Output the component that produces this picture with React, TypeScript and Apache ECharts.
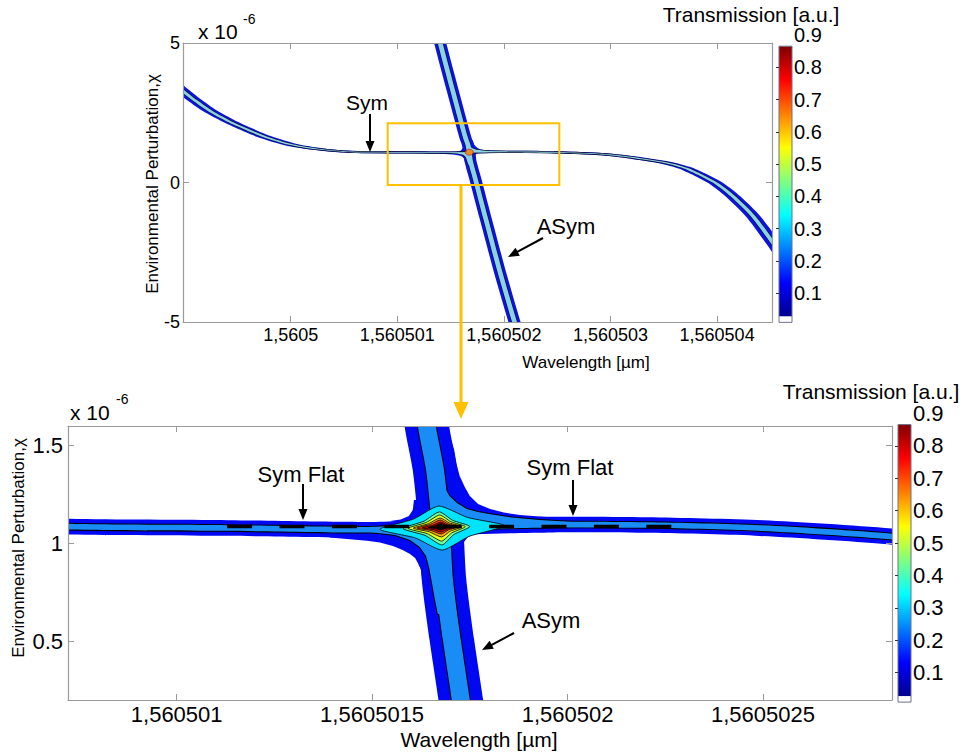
import React, { useEffect, useRef } from "react";
import * as echarts from "echarts";

// ---------------- data ----------------
// wavelengths are offsets from 1.5605 µm, in units of 1e-6 µm; chi in units of 1e-6
const WL_BASE_UM = 1.5605;

// Symmetric resonance branch ("Sym") – centre line of the transmission band
const SYM_WL = [-1.2, -1.05, -0.9, -0.75, -0.6, -0.48, -0.25, 0, 0.25, 0.5, 0.72, 1.13, 1.49, 1.68, 1.96, 2.2, 2.49, 2.83, 3.0, 3.2, 3.53, 3.7, 3.84, 4.0, 4.15, 4.34, 4.55, 4.7];
const SYM_CHI = [3.87, 3.4, 2.95, 2.55, 2.24, 2.02, 1.65, 1.36, 1.2, 1.11, 1.086, 1.079, 1.07, 1.083, 1.096, 1.094, 1.079, 1.035, 0.99, 0.9, 0.7, 0.52, 0.28, -0.05, -0.5, -1.22, -2.3, -3.1];

// Asymmetric resonance branch ("ASym")
const ASYM_WL = [1.36, 1.388, 1.52, 1.64, 1.661, 1.676, 1.684, 1.704, 1.727, 1.83, 1.97, 2.115, 2.145];
const ASYM_CHI = [5.6, 5.2, 3.3, 1.6, 1.375, 1.084, 0.813, 0.507, 0.2, -1.3, -3.3, -5.2, -5.6];

// crossing point of the two branches
const CROSS_WL = 1.676;
const CROSS_CHI = 1.084;

// half widths of the 0.1 and 0.2 transmission contours around each branch
const SYM_HALF_WL = [0.068, 0.022];
const SYM_HALF_CHI = [0.04, 0.0145];
const ASYM_HALF_WL = [0.057, 0.023];
const ASYM_HALF_CHI = [0.04, 0.0145];

// 0.1 contour near the crossing (corner regions)
const C01_UR_WL = [1.702, 1.71, 1.716, 1.724, 1.737, 1.75, 1.771, 1.802, 1.837, 1.878, 1.963, 2.083, 2.083, 1.686, 1.674];
const C01_UR_CHI = [1.528, 1.477, 1.406, 1.345, 1.288, 1.242, 1.201, 1.176, 1.158, 1.145, 1.132, 1.125, 1.089, 1.084, 1.528];
const C01_LL_WL = [1.392, 1.392, 1.487, 1.52, 1.553, 1.578, 1.597, 1.61, 1.617, 1.625, 1.628, 1.635, 1.64, 1.674, 1.674];
const C01_LL_CHI = [1.069, 1.03, 1.014, 1.005, 0.987, 0.966, 0.946, 0.925, 0.9, 0.864, 0.823, 0.762, 0.685, 0.685, 1.084];
const C01_UL_WL = [1.607, 1.604, 1.594, 1.573, 1.546, 1.622, 1.622];
const C01_UL_CHI = [1.222, 1.171, 1.14, 1.122, 1.115, 1.084, 1.222];
const C01_LR_WL = [1.73, 1.735, 1.745, 1.763, 1.796, 1.796, 1.704, 1.704];
const C01_LR_CHI = [0.956, 1.007, 1.033, 1.048, 1.056, 1.089, 1.084, 0.956];

// 0.2 contour near the crossing
const C02_UR_WL = [1.684, 1.684, 1.698, 1.717, 1.742, 1.771, 1.799, 1.858, 1.929, 2.032, 2.032, 1.686, 1.665];
const C02_UR_CHI = [1.355, 1.288, 1.242, 1.207, 1.176, 1.161, 1.15, 1.132, 1.12, 1.107, 1.09, 1.084, 1.355];
const C02_LL_WL = [1.495, 1.559, 1.597, 1.622, 1.638, 1.646, 1.653, 1.66, 1.668, 1.7, 1.7, 1.495];
const C02_LL_CHI = [1.058, 1.043, 1.017, 0.982, 0.936, 0.874, 0.8, 0.72, 0.64, 0.64, 1.084, 1.07];

// high-transmission spot at the crossing: contour levels and their extents
const HOT_LEVELS = [0.3, 0.4, 0.5, 0.6, 0.7, 0.8, 0.9];
const HOT_LEFT_WL = [1.52, 1.579, 1.592, 1.605, 1.615, 1.628, 1.643];
const HOT_RIGHT_WL = [1.84, 1.75, 1.738, 1.73, 1.72, 1.715, 1.704];
const HOT_TOP_CHI = [1.191, 1.161, 1.145, 1.13, 1.12, 1.109, 1.102];
const HOT_BOTTOM_CHI = [0.966, 0.992, 1.012, 1.033, 1.048, 1.058, 1.069];

// dashed "flat" segment of the Sym branch (zoomed panel)
const FLAT_WL = [1.129, 2.277];
const FLAT_CHI = [1.087, 1.087];

// zoom window marked on the upper panel
const ZOOM_BOX_WL = [0.91, 2.52];
const ZOOM_BOX_CHI = [-0.09, 2.12];

// ticks
const TOP_X_TICKS = [0, 1, 2, 3, 4];
const TOP_Y_TICKS = [-5, 0, 5];
const BOT_X_TICKS = [1, 1.5, 2, 2.5];
const BOT_Y_TICKS = [0.5, 1, 1.5];
const CBAR_LABELS = [0.1, 0.2, 0.3, 0.4, 0.5, 0.6, 0.7, 0.8, 0.9];
const CBAR_TICKS = [0.1, 0.2, 0.3, 0.4, 0.5, 0.6, 0.7, 0.8];
const CBAR_RANGE = [0.009, 0.866];
const CBAR_WHITE_TOP = 0.027;

// ---------------- styling ----------------
const FONT = "'Liberation Sans', Arial, Helvetica, sans-serif";
const AXIS_GREY = "#9b9b9b";
const ORANGE = "#ffc000";
const HOT_COLORS = ["#00e4ff", "#6dffa0", "#e6ff1a", "#ffb000", "#ff4000", "#c00000", "#1a0000"];
const JET_STOPS = [
  { offset: 0, color: "#00008f" },
  { offset: 0.125, color: "#0000ff" },
  { offset: 0.375, color: "#00ffff" },
  { offset: 0.625, color: "#ffff00" },
  { offset: 0.875, color: "#ff0000" },
  { offset: 1, color: "#800000" },
];

// ---------------- helpers ----------------
function interp(xs: number[], ys: number[], x: number): number {
  const n = xs.length;
  let i = 1;
  while (i < n - 1 && x > xs[i]) i++;
  const t = (x - xs[i - 1]) / (xs[i] - xs[i - 1]);
  return ys[i - 1] + t * (ys[i] - ys[i - 1]);
}
const symChiAt = (wl: number) => interp(SYM_WL, SYM_CHI, wl);
const ASYM_CHI_ASC = ASYM_CHI.slice().reverse();
const ASYM_WL_ASC = ASYM_WL.slice().reverse();
const asymWlAt = (chi: number) => interp(ASYM_CHI_ASC, ASYM_WL_ASC, chi);

function fmtWl(v: number): string {
  let s = (WL_BASE_UM + v * 1e-6).toFixed(7).replace(/0+$/, "");
  if (s.endsWith(".")) s = s.slice(0, -1);
  return s.replace(".", ",");
}

// band around a curve: Minkowski sum with an ellipse of half axes (hw, hc) in data units
function band(api: any, wls: number[], chis: number[], hw: number, hc: number): number[][] {
  const pts = wls.map((w, i) => api.coord([w, chis[i]]));
  const sz = api.size([hw, hc]);
  const a = sz[0], b = sz[1];
  const U = pts.map((p: number[]) => [p[0] / a, p[1] / b]);
  const n = U.length;
  const left: number[][] = [];
  const right: number[][] = [];
  for (let i = 0; i < n; i++) {
    const p0 = U[Math.max(0, i - 1)], p1 = U[Math.min(n - 1, i + 1)];
    const dx = p1[0] - p0[0], dy = p1[1] - p0[1];
    const L = Math.hypot(dx, dy) || 1;
    const nx = -dy / L, ny = dx / L;
    left.push([(U[i][0] + nx) * a, (U[i][1] + ny) * b]);
    right.push([(U[i][0] - nx) * a, (U[i][1] - ny) * b]);
  }
  return left.concat(right.reverse());
}

function poly(api: any, wls: number[], chis: number[]): number[][] {
  return wls.map((w, i) => api.coord([w, chis[i]]));
}

function hotspot(api: any, k: number): number[][] {
  const L = api.coord([HOT_LEFT_WL[k], symChiAt(HOT_LEFT_WL[k])]);
  const R = api.coord([HOT_RIGHT_WL[k], symChiAt(HOT_RIGHT_WL[k])]);
  const T = api.coord([asymWlAt(HOT_TOP_CHI[k]), HOT_TOP_CHI[k]]);
  const B = api.coord([asymWlAt(HOT_BOTTOM_CHI[k]), HOT_BOTTOM_CHI[k]]);
  const C = api.coord([CROSS_WL, CROSS_CHI]);
  const pinch = 0.14;
  const mid = (P: number[], Q: number[]) => {
    const m = [(P[0] + Q[0]) / 2, (P[1] + Q[1]) / 2];
    return [m[0] + pinch * (C[0] - m[0]), m[1] + pinch * (C[1] - m[1])];
  };
  return [L, mid(L, T), T, mid(T, R), R, mid(R, B), B, mid(B, L)];
}

interface Palette { outer: string; inner: string; line: string; lineWidth: number; hotspot: boolean }

function contourRenderer(pal: Palette) {
  return (_params: any, api: any) => {
    const children: any[] = [];
    const outerBands = [
      band(api, SYM_WL, SYM_CHI, SYM_HALF_WL[0], SYM_HALF_CHI[0]),
      band(api, ASYM_WL, ASYM_CHI, ASYM_HALF_WL[0], ASYM_HALF_CHI[0]),
    ];
    const outerCorners = [
      poly(api, C01_UR_WL, C01_UR_CHI),
      poly(api, C01_LL_WL, C01_LL_CHI),
      poly(api, C01_UL_WL, C01_UL_CHI),
      poly(api, C01_LR_WL, C01_LR_CHI),
    ];
    outerBands.forEach((p) => children.push({ type: "polygon", shape: { points: p, smooth: 0.25 }, style: { fill: pal.outer } }));
    outerCorners.forEach((p) => children.push({ type: "polygon", shape: { points: p }, style: { fill: pal.outer } }));
    const innerBands = [
      band(api, SYM_WL, SYM_CHI, SYM_HALF_WL[1], SYM_HALF_CHI[1]),
      band(api, ASYM_WL, ASYM_CHI, ASYM_HALF_WL[1], ASYM_HALF_CHI[1]),
    ];
    const innerCorners = [poly(api, C02_UR_WL, C02_UR_CHI), poly(api, C02_LL_WL, C02_LL_CHI)];
    innerBands.forEach((p) => children.push({ type: "polygon", shape: { points: p, smooth: 0.25 }, style: { fill: "none", stroke: pal.line, lineWidth: pal.lineWidth * 2 } }));
    innerCorners.forEach((p) => children.push({ type: "polygon", shape: { points: p }, style: { fill: "none", stroke: pal.line, lineWidth: pal.lineWidth * 2, lineJoin: "round" } }));
    innerBands.forEach((p) => children.push({ type: "polygon", shape: { points: p, smooth: 0.25 }, style: { fill: pal.inner } }));
    innerCorners.forEach((p) => children.push({ type: "polygon", shape: { points: p }, style: { fill: pal.inner } }));
    if (pal.hotspot) {
      HOT_LEVELS.forEach((_lv, k) => {
        children.push({ type: "polygon", shape: { points: hotspot(api, k), smooth: 0.2 }, style: { fill: HOT_COLORS[k], stroke: "#000", lineWidth: 0.8 } });
      });
    }
    return { type: "group", children };
  };
}

const jetGradient = () => new echarts.graphic.LinearGradient(0, 1, 0, 0, JET_STOPS);

function colorbarRenderer(_params: any, api: any) {
  const a = api.coord([0, CBAR_RANGE[0]]);
  const w = api.coord([0, CBAR_WHITE_TOP]);
  const b = api.coord([1, CBAR_RANGE[1]]);
  const x = a[0], wd = b[0] - a[0];
  return {
    type: "group",
    children: [
      { type: "rect", shape: { x, y: b[1], width: wd, height: w[1] - b[1] }, style: { fill: jetGradient() } },
      { type: "rect", shape: { x, y: w[1], width: wd, height: a[1] - w[1] }, style: { fill: "#ffffff" } },
      { type: "rect", shape: { x, y: b[1], width: wd, height: a[1] - b[1] }, style: { fill: "none", stroke: "#6f6f90", lineWidth: 1 } },
    ],
  };
}

function zoomBoxRenderer(_params: any, api: any) {
  const p0 = api.coord([ZOOM_BOX_WL[0], ZOOM_BOX_CHI[1]]);
  const p1 = api.coord([ZOOM_BOX_WL[1], ZOOM_BOX_CHI[0]]);
  return {
    type: "rect",
    shape: { x: p0[0], y: p0[1], width: p1[0] - p0[0], height: p1[1] - p0[1] },
    style: { fill: "none", stroke: ORANGE, lineWidth: 2 },
  };
}

// ---------------- axes ----------------
function xAxis(gridIndex: number, position: string, min: number, max: number, ticks: number[], showLabel: boolean, fontSize: number, margin: number) {
  return {
    type: "value", gridIndex, position, min, max, z: 10,
    axisLine: { show: true, onZero: false, lineStyle: { color: AXIS_GREY, width: 1.2 } },
    axisTick: { show: true, inside: true, length: 6, customValues: ticks, lineStyle: { color: AXIS_GREY } },
    axisLabel: { show: showLabel, customValues: ticks, formatter: fmtWl, fontSize, fontFamily: FONT, color: "#000", margin },
    splitLine: { show: false },
  };
}
function yAxis(gridIndex: number, position: string, min: number, max: number, ticks: number[], showLabel: boolean, fontSize: number, margin: number) {
  return {
    type: "value", gridIndex, position, min, max, z: 10,
    axisLine: { show: true, onZero: false, lineStyle: { color: AXIS_GREY, width: 1.2 } },
    axisTick: { show: true, inside: true, length: 6, customValues: ticks, lineStyle: { color: AXIS_GREY } },
    axisLabel: { show: showLabel, customValues: ticks, formatter: (v: number) => String(v), fontSize, fontFamily: FONT, color: "#000", margin },
    splitLine: { show: false },
  };
}
function cbarX(gridIndex: number) {
  return { type: "value", gridIndex, min: 0, max: 1, show: false };
}
function cbarY(gridIndex: number, fontSize: number) {
  return {
    type: "value", gridIndex, position: "right", min: 0, max: 0.9, z: 10,
    axisLine: { show: false },
    axisTick: { show: true, inside: true, length: 3, customValues: CBAR_TICKS, lineStyle: { color: "#333" } },
    axisLabel: { show: true, customValues: CBAR_LABELS, formatter: (v: number) => v.toFixed(1), fontSize, fontFamily: FONT, color: "#000", margin: 2 },
    splitLine: { show: false },
  };
}

// ---------------- annotations ----------------
function arrow(x1: number, y1: number, x2: number, y2: number, color = "#000", lw = 2, hl = 11, hw = 9) {
  const dx = x2 - x1, dy = y2 - y1;
  const L = Math.hypot(dx, dy);
  const ux = dx / L, uy = dy / L;
  const bx = x2 - ux * hl, by = y2 - uy * hl;
  return [
    { type: "line", z: 60, shape: { x1, y1, x2: bx + ux, y2: by + uy }, style: { stroke: color, lineWidth: lw } },
    { type: "polygon", z: 60, shape: { points: [[x2, y2], [bx - (uy * hw) / 2, by + (ux * hw) / 2], [bx + (uy * hw) / 2, by - (ux * hw) / 2]] }, style: { fill: color } },
  ];
}
function label(text: string, x: number, y: number, fontSize: number, align = "center", rotation = 0) {
  return { type: "text", z: 60, x, y, rotation, style: { text, fontSize, fontFamily: FONT, fill: "#000", align, verticalAlign: "middle" } };
}

function buildOption(): any {
  const graphics: any[] = [
    label("x 10", 198, 31, 21, "left"),
    label("-6", 243, 19, 14, "left"),
    label("x 10", 70, 412, 21, "left"),
    label("-6", 116, 399, 14, "left"),
    label("Transmission [a.u.]", 751, 14, 21),
    label("Transmission [a.u.]", 871, 391, 21),
    label("Environmental Perturbation,χ", 152, 184, 17, "center", Math.PI / 2),
    label("Environmental Perturbation,χ", 18, 548, 17, "center", Math.PI / 2),
    label("Wavelength [µm]", 586, 362, 17),
    label("Wavelength [µm]", 479, 739, 21),
    label("Sym", 367, 102, 21),
    label("ASym", 566, 226, 22),
    label("Sym Flat", 301, 474, 22),
    label("Sym Flat", 570, 467, 22),
    label("ASym", 551, 620, 22),
    ...arrow(370, 114, 370, 152),
    ...arrow(543, 238, 508, 257),
    ...arrow(303, 484, 303, 520),
    ...arrow(573, 480, 573, 516),
    ...arrow(514, 633, 482, 650),
    ...arrow(461, 185, 461, 419, ORANGE, 3, 17, 15),
  ];

  return {
    animation: false,
    backgroundColor: "#ffffff",
    grid: [
      { left: 183, top: 43, width: 589, height: 279, containLabel: false, outerBoundsMode: "none" },
      { left: 779, top: 35.25, width: 13, height: 290, containLabel: false, outerBoundsMode: "none" },
      { left: 68, top: 426, width: 824, height: 274, containLabel: false, outerBoundsMode: "none" },
      { left: 898, top: 413.6, width: 13, height: 291.4, containLabel: false, outerBoundsMode: "none" },
    ],
    xAxis: [
      xAxis(0, "bottom", -1.01, 4.515, TOP_X_TICKS, true, 18, 4),
      xAxis(0, "top", -1.01, 4.515, TOP_X_TICKS, false, 18, 4),
      cbarX(1),
      xAxis(2, "bottom", 0.722, 2.83, BOT_X_TICKS, true, 22, 3),
      xAxis(2, "top", 0.722, 2.83, BOT_X_TICKS, false, 22, 3),
      cbarX(3),
    ],
    yAxis: [
      yAxis(0, "left", -5, 5, TOP_Y_TICKS, true, 18, 3),
      yAxis(0, "right", -5, 5, TOP_Y_TICKS, false, 18, 3),
      cbarY(1, 20),
      yAxis(2, "left", 0.2, 1.6, BOT_Y_TICKS, true, 22, 5),
      yAxis(2, "right", 0.2, 1.6, BOT_Y_TICKS, false, 22, 5),
      cbarY(3, 22),
    ],
    series: [
      {
        type: "custom", xAxisIndex: 0, yAxisIndex: 0, clip: true, z: 2,
        renderItem: contourRenderer({ outer: "#0b12e6", inner: "#8ad3e2", line: "#101030", lineWidth: 0.7, hotspot: false }),
        data: [[CROSS_WL, CROSS_CHI]],
      },
      {
        type: "scatter", xAxisIndex: 0, yAxisIndex: 0, z: 3,
        symbol: "circle", symbolSize: [8, 6],
        itemStyle: { color: "#ff7a00", borderColor: "#b02000", borderWidth: 0.8 },
        data: [[CROSS_WL, CROSS_CHI]],
      },
      { type: "custom", xAxisIndex: 0, yAxisIndex: 0, z: 4, renderItem: zoomBoxRenderer, data: [[ZOOM_BOX_WL[0], ZOOM_BOX_CHI[0]]] },
      { type: "custom", xAxisIndex: 2, yAxisIndex: 2, z: 2, renderItem: colorbarRenderer, data: [[0.5, 0.5]] },
      {
        type: "custom", xAxisIndex: 3, yAxisIndex: 3, clip: true, z: 2,
        renderItem: contourRenderer({ outer: "#0008f2", inner: "#1a8cf5", line: "#000000", lineWidth: 1, hotspot: true }),
        data: [[CROSS_WL, CROSS_CHI]],
      },
      {
        type: "line", xAxisIndex: 3, yAxisIndex: 3, z: 3, symbol: "none", silent: true,
        lineStyle: { color: "#000", width: 3.5, type: [25, 27.4] },
        data: FLAT_WL.map((w, i) => [w, FLAT_CHI[i]]),
      },
      { type: "custom", xAxisIndex: 5, yAxisIndex: 5, z: 2, renderItem: colorbarRenderer, data: [[0.5, 0.5]] },
    ],
    graphic: { elements: graphics },
  };
}

export default function App() {
  const ref = useRef<HTMLDivElement>(null);
  useEffect(() => {
    if (!ref.current) return;
    const chart = echarts.init(ref.current, undefined, { renderer: "svg", width: 969, height: 753 });
    chart.setOption(buildOption());
    return () => chart.dispose();
  }, []);
  return <div ref={ref} style={{ position: "absolute", left: 0, top: 0, width: 969, height: 753, background: "#fff" }} />;
}
